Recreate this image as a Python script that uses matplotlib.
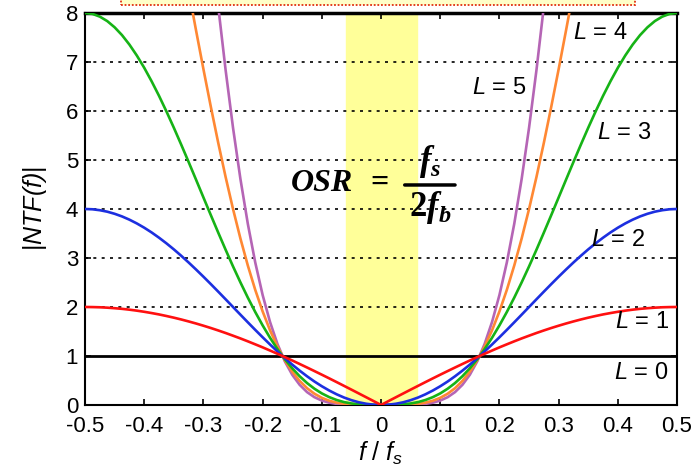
import numpy as np
import matplotlib
matplotlib.use("Agg")
import matplotlib.pyplot as plt
from matplotlib.patches import Rectangle

# |NTF(f)| for f / fs from 0 to 0.5 (step 0.0125); the curves are symmetric
f_half = [0.0, 0.0125, 0.025, 0.0375, 0.05, 0.0625, 0.075, 0.0875, 0.1, 0.1125,
          0.125, 0.1375, 0.15, 0.1625, 0.175, 0.1875, 0.2, 0.2125, 0.225, 0.2375,
          0.25, 0.2625, 0.275, 0.2875, 0.3, 0.3125, 0.325, 0.3375, 0.35, 0.3625,
          0.375, 0.3875, 0.4, 0.4125, 0.425, 0.4375, 0.45, 0.4625, 0.475, 0.4875, 0.5]
ntf_L1 = [0.0, 0.079, 0.157, 0.235, 0.313, 0.390, 0.467, 0.543, 0.618, 0.692,
          0.765, 0.837, 0.908, 0.977, 1.045, 1.111, 1.176, 1.238, 1.299, 1.358,
          1.414, 1.469, 1.521, 1.571, 1.618, 1.663, 1.705, 1.745, 1.782, 1.816,
          1.848, 1.876, 1.902, 1.925, 1.945, 1.962, 1.975, 1.986, 1.994, 1.998, 2.0]
ntf_L2 = [0.0, 0.006, 0.025, 0.055, 0.098, 0.152, 0.218, 0.295, 0.382, 0.479,
          0.586, 0.701, 0.824, 0.955, 1.092, 1.235, 1.382, 1.533, 1.687, 1.843,
          2.0, 2.157, 2.313, 2.467, 2.618, 2.765, 2.908, 3.045, 3.176, 3.299,
          3.414, 3.521, 3.618, 3.705, 3.782, 3.848, 3.902, 3.945, 3.975, 3.994, 4.0]
ntf_L3 = [0.0, 0.0005, 0.004, 0.013, 0.031, 0.059, 0.102, 0.160, 0.236, 0.332,
          0.448, 0.587, 0.749, 0.933, 1.141, 1.372, 1.625, 1.898, 2.191, 2.502,
          2.828, 3.168, 3.518, 3.875, 4.236, 4.599, 4.959, 5.313, 5.659, 5.992,
          6.309, 6.606, 6.882, 7.132, 7.355, 7.548, 7.708, 7.835, 7.926, 7.982, 8.0]
ntf_L4 = [0.0, 0.0, 0.001, 0.003, 0.010, 0.023, 0.048, 0.087, 0.146, 0.230,
          0.343, 0.492, 0.680, 0.912, 1.193, 1.524, 1.910, 2.350, 2.846, 3.397,
          4.0, 4.652, 5.350, 6.086, 6.854, 7.647, 8.457, 9.272, 10.08, 10.88,
          11.66, 12.40, 13.09, 13.73, 14.30, 14.81, 15.23, 15.56, 15.80, 15.95, 16.0]
ntf_L5 = [0.0, 0.0, 0.0001, 0.0007, 0.003, 0.009, 0.022, 0.047, 0.090, 0.159,
          0.263, 0.412, 0.617, 0.891, 1.246, 1.694, 2.245, 2.910, 3.697, 4.612,
          5.657, 6.833, 8.135, 9.558, 11.09, 12.72, 14.42, 16.18, 17.96, 19.77,
          21.54, 23.26, 24.90, 26.43, 27.81, 29.04, 30.08, 30.91, 31.50, 31.88, 32.0]

orders = [5, 4, 3, 2, 1]
curves = [ntf_L5, ntf_L4, ntf_L3, ntf_L2, ntf_L1]
colors = ["#b565b5", "#ff8833", "#16b316", "#1c2fe0", "#ff1010"]

band = [-0.06, 0.06]
label_pos = {0: (0.44, 0.65), 1: (0.44, 1.69), 2: (0.40, 3.37),
             3: (0.41, 5.55), 4: (0.37, 7.59), 5: (0.20, 6.47)}

plt.rcParams["font.family"] = "Liberation Sans"
plt.rcParams["mathtext.fontset"] = "custom"
plt.rcParams["mathtext.sf"] = "Liberation Sans:italic"
plt.rcParams["mathtext.cal"] = "Liberation Serif:bold:italic"
plt.rcParams["mathtext.bf"] = "Liberation Serif:bold"

fig = plt.figure(figsize=(6.98, 4.76), dpi=100)
ax = fig.add_axes([0.1218, 0.1492, 0.8482, 0.8235])

# cut-off title box at the top
fig.patches.append(Rectangle((121 / 698, 1 - 5 / 476), (635 - 121) / 698, 0.02,
                             transform=fig.transFigure, facecolor="#ffffc8",
                             edgecolor="#e03010", linestyle=(0, (1, 1)), lw=1.3,
                             clip_on=False, zorder=0))

ax.axvspan(band[0], band[1], color="#ffff99", zorder=0)

for y in range(2, 8):
    ax.axhline(y, color="black", lw=1.2, linestyle=(0, (1.8, 3.2)), zorder=1)
ax.axhline(1, color="black", lw=2, zorder=2)

f_half = np.array(f_half)
f_full = np.concatenate([-f_half[:0:-1], f_half])
for L, c, col in zip(orders, curves, colors):
    c = np.array(c)
    vals = np.concatenate([c[:0:-1], c])
    ax.plot(f_full, vals, color=col, lw=1.9, zorder=3)

for L, (x, y) in label_pos.items():
    ax.text(x, y, r"$\mathsf{L}$ = %d" % L, fontsize=17, ha="center", va="center", zorder=4)

# OSR = fs / 2fb
ax.text(-0.1, 4.53, "OSR", family="Liberation Serif", style="italic", weight="bold",
        fontsize=23, ha="center", va="center", zorder=4)
ax.text(-0.003, 4.53, "=", family="Liberation Serif", weight="bold",
        fontsize=23, ha="center", va="center", zorder=4)
ax.annotate("", xy=(0.125, 4.49), xytext=(0.04, 4.49),
            arrowprops=dict(arrowstyle="-", lw=2.5, color="black",
                            shrinkA=0, shrinkB=0), zorder=4)
ax.text(0.083, 4.6, r"$\mathcal{f}_{\mathcal{s}}$", fontsize=25,
        ha="center", va="bottom", zorder=4)
ax.text(0.083, 4.4, r"$\mathbf{2}\mathcal{f}_{\mathcal{b}}$", fontsize=25,
        ha="center", va="top", zorder=4)

ax.set_xlim(-0.5, 0.5)
ax.set_ylim(0, 8)
ax.set_xticks(np.round(np.arange(-0.5, 0.51, 0.1), 1))
ax.set_xticklabels(["-0.5", "-0.4", "-0.3", "-0.2", "-0.1", "0", "0.1", "0.2", "0.3", "0.4", "0.5"])
ax.set_yticks(range(0, 9))
ax.tick_params(direction="in", length=4, width=1.2, labelsize=16, top=True, right=True)
ax.tick_params(axis="x", pad=8)
ax.tick_params(axis="y", pad=5)
for s in ax.spines.values():
    s.set_linewidth(1.5)
ax.spines["top"].set_linewidth(2.5)

ax.set_xlabel(r"$\mathsf{f}$ / $\mathsf{f_s}$", fontsize=18, labelpad=2)
ax.set_ylabel(r"|$\mathsf{NTF(f)}$|", fontsize=18, labelpad=12)

fig.savefig("out.png", dpi=100)
